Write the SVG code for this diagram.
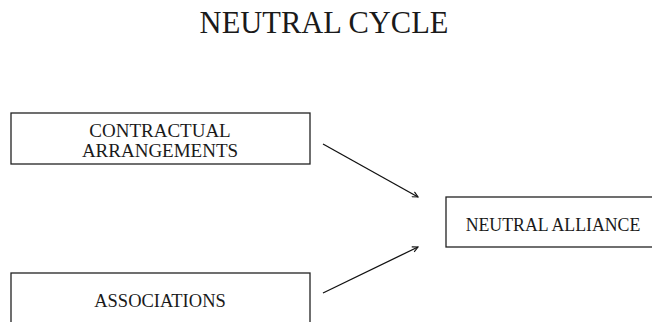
<svg xmlns="http://www.w3.org/2000/svg" width="652" height="322" viewBox="0 0 652 322">
<style>
.box{fill:#fff;stroke:#222;stroke-width:1.3}
.t{font-family:"Liberation Serif",serif;fill:#1a1a1a;text-anchor:middle}
.c{stroke:#111;stroke-width:1.3;fill:none;marker-end:url(#ah)}
</style>
<defs>
<marker id="ah" viewBox="0 0 10 10" refX="9" refY="5" markerWidth="7" markerHeight="7" markerUnits="userSpaceOnUse" orient="auto">
<path d="M1,1 L9,5 L1,9" fill="none" stroke="#111" stroke-width="1.6"/>
</marker>
</defs>
<rect width="652" height="322" fill="#fff"/>
<text class="t" x="324" y="33" font-size="30.5">NEUTRAL CYCLE</text>
<g id="contractual">
<rect class="box" x="11" y="113" width="299" height="51"/>
<text class="t" x="160" y="137" font-size="19">CONTRACTUAL</text>
<text class="t" x="160" y="157" font-size="19">ARRANGEMENTS</text>
</g>
<g id="associations">
<rect class="box" x="11" y="273" width="299" height="60"/>
<text class="t" x="160" y="307" font-size="18.5">ASSOCIATIONS</text>
</g>
<g id="neutral-alliance">
<rect class="box" x="446" y="197" width="220" height="50"/>
<text class="t" x="553" y="231" font-size="17.8">NEUTRAL ALLIANCE</text>
</g>
<g id="connectors">
<line class="c" x1="323" y1="144" x2="418" y2="197"/>
<line class="c" x1="323" y1="293" x2="418" y2="247"/>
</g>
</svg>
